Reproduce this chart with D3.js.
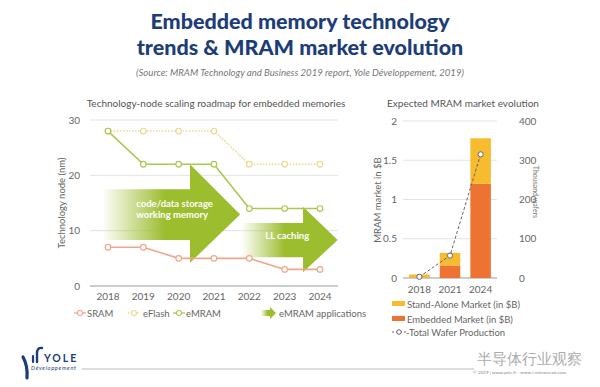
<!DOCTYPE html>
<html lang="en">
<head>
	<meta charset="UTF-8">
	<title>Embedded memory & MRAM</title>
	<script src="https://cdn.jsdelivr.net/npm/d3@7"></script>
	<style>
		body { margin: 0; background: #fff; }
		text { font-family: Lato, "Open Sans", sans-serif; }
	</style>
</head>
<body>
	<div id="vis"></div>

	<script>
		var width = 600;
		var height = 387;

		// ---- data: left chart (technology node, nm)
		var years = [2018, 2019, 2020, 2021, 2022, 2023, 2024];
		var sram = [7, 7, 5, 5, 5, 3, 3];
		var eflash = [28, 28, 28, 28, 22, 22, 22];
		var emram = [28, 22, 22, 22, 14, 14, 14];
		var nodeTicks = [0, 10, 20, 30];

		// ---- data: right chart (MRAM market)
		var marketYears = ["2018", "2021", "2024"];
		var embedded = [0.005, 0.16, 1.2];
		var standAlone = [0.04, 0.16, 0.58];
		var wafers = [3, 57, 315];
		var marketTicks = [0, 0.5, 1, 1.5, 2];
		var waferTicks = [0, 100, 200, 300, 400];

		var cSram = "#eda78b", cFlash = "#ecd98c", cMram = "#a9c84f", cArrow = "#9cbd2e";
		var cEmb = "#ec7331", cSA = "#f7bb2f", cNavy = "#1d3d78", cGrey = "#666";

		var svg = d3.select("#vis").append("svg")
				.attr("width", width)
				.attr("height", height);

		// title
		svg.append("text").attr("x", 300).attr("y", 29).attr("text-anchor", "middle")
			.attr("font-size", 21.5).attr("font-weight", 900).attr("fill", cNavy)
			.text("Embedded memory technology");
		svg.append("text").attr("x", 300).attr("y", 55).attr("text-anchor", "middle")
			.attr("font-size", 21.5).attr("font-weight", 900).attr("fill", cNavy)
			.text("trends & MRAM market evolution");
		svg.append("text").attr("x", 300).attr("y", 76).attr("text-anchor", "middle")
			.attr("font-size", 9.6).attr("font-style", "italic").attr("fill", "#777")
			.text("(Source: MRAM Technology and Business 2019 report, Yole Développement, 2019)");

		// ================= left chart
		var x = d3.scaleLinear().domain([2018, 2024]).range([108, 320]);
		var y = d3.scaleLinear().domain([0, 30]).range([286, 120]);
		var left = svg.append("g");

		left.append("text").attr("x", 216).attr("y", 107).attr("text-anchor", "middle")
			.attr("font-size", 10).attr("fill", "#555")
			.text("Technology-node scaling roadmap for embedded memories");

		left.selectAll(".grid").data(nodeTicks).enter().append("line")
			.attr("x1", 90).attr("x2", 338)
			.attr("y1", function(d) { return y(d); }).attr("y2", function(d) { return y(d); })
			.attr("stroke", function(d) { return d === 0 ? "#999" : "#e3e3e3"; })
			.attr("stroke-width", 1);
		left.selectAll(".ytick").data(nodeTicks).enter().append("text")
			.attr("x", 80).attr("y", function(d) { return y(d) + 3.5; })
			.attr("text-anchor", "end").attr("font-size", 10).attr("fill", cGrey)
			.text(function(d) { return d; });
		left.selectAll(".xtick").data(years).enter().append("text")
			.attr("x", function(d) { return x(d); }).attr("y", 300)
			.attr("text-anchor", "middle").attr("font-size", 10).attr("fill", cGrey)
			.text(function(d) { return d; });
		left.append("text")
			.attr("transform", "translate(65," + y(15) + ") rotate(-90)")
			.attr("text-anchor", "middle").attr("font-size", 9.5).attr("fill", cGrey)
			.text("Technology node (nm)");

		// arrow gradient
		var defs = svg.append("defs");
		var grad = defs.append("linearGradient").attr("id", "arrowGrad")
			.attr("x1", "0").attr("x2", "1").attr("y1", "0").attr("y2", "0");
		grad.append("stop").attr("offset", "0%").attr("stop-color", cArrow).attr("stop-opacity", 0.02);
		grad.append("stop").attr("offset", "45%").attr("stop-color", cArrow).attr("stop-opacity", 1);
		grad.append("stop").attr("offset", "100%").attr("stop-color", cArrow).attr("stop-opacity", 1);

		// arrows in data units: body start/end year, tip year, body low/high, head low/high
		var arrows = [
			{ x0: 2017.87, x1: 2020.32, x2: 2021.74, b0: 8.3, b1: 17.5, h0: 4.2, h1: 22.0, label: ["code/data storage", "working memory"], lx: 2018.8, ly: 14.2 },
			{ x0: 2021.8, x1: 2023.52, x2: 2024.5, b0: 5.2, b1: 11.4, h0: 2.5, h1: 14.3, label: ["LL caching"], lx: 2022.45, ly: 8.5 }
		];
		arrows.forEach(function(a) {
			var mid = (a.b0 + a.b1) / 2;
			var pts = [[a.x0, a.b1], [a.x1, a.b1], [a.x1, a.h1], [a.x2, mid], [a.x1, a.h0], [a.x1, a.b0], [a.x0, a.b0]];
			left.append("path")
				.attr("d", d3.line().x(function(p) { return x(p[0]); }).y(function(p) { return y(p[1]); })(pts) + "Z")
				.attr("fill", "url(#arrowGrad)");
		});

		function series(data, color, dash) {
			var pts = years.map(function(yr, i) { return [yr, data[i]]; });
			left.append("path")
				.attr("d", d3.line().x(function(p) { return x(p[0]); }).y(function(p) { return y(p[1]); })(pts))
				.attr("fill", "none").attr("stroke", color).attr("stroke-width", 1.6)
				.attr("stroke-dasharray", dash);
			left.selectAll(null).data(pts).enter().append("circle")
				.attr("cx", function(p) { return x(p[0]); }).attr("cy", function(p) { return y(p[1]); })
				.attr("r", 2.8).attr("fill", "#fff").attr("stroke", color).attr("stroke-width", 1.2);
		}
		series(eflash, cFlash, "1.5,1.5");
		series(emram, cMram, null);
		series(sram, cSram, null);

		arrows.forEach(function(a) {
			a.label.forEach(function(t, i) {
				left.append("text")
					.attr("x", x(a.lx)).attr("y", y(a.ly) + i * 11)
					.attr("font-size", 9.5).attr("font-weight", 700).attr("fill", "#fff")
					.text(t);
			});
		});

		// left legend
		var lg = left.append("g").attr("transform", "translate(0,313)");
		[[74, cSram, "SRAM", null], [128, cFlash, "eFlash", "1.5,1.5"], [173, cMram, "eMRAM", null]].forEach(function(l) {
			lg.append("line").attr("x1", l[0]).attr("x2", l[0] + 12).attr("y1", 0).attr("y2", 0)
				.attr("stroke", l[1]).attr("stroke-width", 1.3).attr("stroke-dasharray", l[3]);
			lg.append("circle").attr("cx", l[0] + 6).attr("cy", 0).attr("r", 2.5)
				.attr("fill", "#fff").attr("stroke", l[1]).attr("stroke-width", 1.1);
			lg.append("text").attr("x", l[0] + (l[2] === "eFlash" ? 15 : 13)).attr("y", 3.5)
				.attr("font-size", 9.5).attr("fill", cGrey).text(l[2]);
		});
		lg.append("path")
			.attr("d", "M261,-3 L270,-3 L270,-6 L276,0 L270,6 L270,3 L261,3 Z")
			.attr("fill", "url(#arrowGrad)");
		lg.append("text").attr("x", 279).attr("y", 3.5).attr("font-size", 9.5).attr("fill", cGrey)
			.text("eMRAM applications");

		// ================= right chart
		var xb = d3.scaleBand().domain(marketYears).range([403, 497]).paddingInner(0.33).paddingOuter(0.2);
		var yb = d3.scaleLinear().domain([0, 2]).range([278, 121]);
		var yw = d3.scaleLinear().domain([0, 400]).range([278, 121]);
		var right = svg.append("g");

		right.append("text").attr("x", 463).attr("y", 107).attr("text-anchor", "middle")
			.attr("font-size", 10).attr("fill", "#555")
			.text("Expected MRAM market evolution");

		right.selectAll(".grid").data(marketTicks).enter().append("line")
			.attr("x1", 403).attr("x2", 497)
			.attr("y1", function(d) { return yb(d); }).attr("y2", function(d) { return yb(d); })
			.attr("stroke", function(d) { return d === 0 ? "#999" : "#e3e3e3"; });
		right.selectAll(".ytl").data(marketTicks).enter().append("text")
			.attr("x", 397).attr("y", function(d) { return yb(d) + 3.5; })
			.attr("text-anchor", "end").attr("font-size", 10).attr("fill", cGrey)
			.text(function(d) { return d; });
		right.selectAll(".ytr").data(waferTicks).enter().append("text")
			.attr("x", 519).attr("y", function(d) { return yw(d) + 3.5; })
			.attr("font-size", 10).attr("fill", cGrey)
			.text(function(d) { return d; });
		right.selectAll(".xt").data(marketYears).enter().append("text")
			.attr("x", function(d) { return xb(d) + xb.bandwidth() / 2; }).attr("y", 293)
			.attr("text-anchor", "middle").attr("font-size", 10).attr("fill", cGrey)
			.text(function(d) { return d; });
		right.append("text")
			.attr("transform", "translate(381,200) rotate(-90)")
			.attr("text-anchor", "middle").attr("font-size", 9.5).attr("fill", cGrey)
			.text("MRAM market in $B");
		right.append("text")
			.attr("transform", "translate(533,192) rotate(90)")
			.attr("text-anchor", "middle").attr("font-size", 7).attr("fill", "#777")
			.text("Thousand wafers");

		var stacked = d3.stack().keys(["emb", "sa"])(marketYears.map(function(yr, i) {
			return { year: yr, emb: embedded[i], sa: standAlone[i] };
		}));
		var colors = { emb: cEmb, sa: cSA };
		stacked.forEach(function(layer) {
			right.selectAll(null).data(layer).enter().append("rect")
				.attr("x", function(d) { return xb(d.data.year); })
				.attr("width", xb.bandwidth())
				.attr("y", function(d) { return yb(d[1]); })
				.attr("height", function(d) { return yb(d[0]) - yb(d[1]); })
				.attr("fill", colors[layer.key]);
		});

		var wpts = marketYears.map(function(yr, i) { return [xb(yr) + xb.bandwidth() / 2, yw(wafers[i])]; });
		right.append("path").attr("d", d3.line()(wpts))
			.attr("fill", "none").attr("stroke", "#666").attr("stroke-width", 1)
			.attr("stroke-dasharray", "3,2");
		right.selectAll(null).data(wpts).enter().append("circle")
			.attr("cx", function(p) { return p[0]; }).attr("cy", function(p) { return p[1]; })
			.attr("r", 2.6).attr("fill", "#fff").attr("stroke", "#666").attr("stroke-width", 1);

		// right legend
		var rl = right.append("g");
		rl.append("rect").attr("x", 392).attr("y", 301).attr("width", 13).attr("height", 5).attr("fill", cSA);
		rl.append("text").attr("x", 407).attr("y", 307.5).attr("font-size", 9.5).attr("fill", cGrey)
			.text("Stand-Alone Market (in $B)");
		rl.append("rect").attr("x", 392).attr("y", 316).attr("width", 13).attr("height", 5).attr("fill", cEmb);
		rl.append("text").attr("x", 407).attr("y", 322.5).attr("font-size", 9.5).attr("fill", cGrey)
			.text("Embedded Market (in $B)");
		rl.append("line").attr("x1", 392).attr("x2", 406).attr("y1", 332).attr("y2", 332)
			.attr("stroke", "#666").attr("stroke-dasharray", "2,2");
		rl.append("circle").attr("cx", 399).attr("cy", 332).attr("r", 2.3)
			.attr("fill", "#fff").attr("stroke", "#666");
		rl.append("text").attr("x", 406).attr("y", 335.5).attr("font-size", 9.5).attr("fill", cGrey)
			.text("-Total Wafer Production");

		// ================= footer
		var ft = svg.append("g");
		ft.append("line").attr("x1", 82).attr("x2", 474).attr("y1", 369).attr("y2", 369)
			.attr("stroke", "#aaa").attr("stroke-width", 0.8);
		// yole swoosh
		ft.append("path").attr("d", "M23,357 Q28,366 27,378")
			.attr("fill", "none").attr("stroke", cNavy).attr("stroke-width", 3.2).attr("stroke-linecap", "round");
		ft.append("path").attr("d", "M33,356 L33,362")
			.attr("fill", "none").attr("stroke", cNavy).attr("stroke-width", 2.2).attr("stroke-linecap", "round");
		ft.append("path").attr("d", "M37,362 L37,352 Q38,347 42,348")
			.attr("fill", "none").attr("stroke", cNavy).attr("stroke-width", 2.4).attr("stroke-linecap", "round");
		ft.append("text").attr("x", 44).attr("y", 362).attr("font-size", 10.5).attr("font-weight", 700)
			.attr("letter-spacing", 2).attr("fill", cNavy).text("YOLE");
		ft.append("text").attr("x", 31).attr("y", 370).attr("font-size", 5.6).attr("font-style", "italic")
			.attr("letter-spacing", 0.7).attr("fill", cNavy).text("Développement");
		ft.append("text").attr("x", 477).attr("y", 364).attr("font-size", 15)
			.attr("font-family", "'Noto Sans CJK SC'").attr("fill", "#999").attr("opacity", 0.8)
			.text("半导体行业观察");
		ft.append("text").attr("x", 473).attr("y", 374).attr("font-size", 4.6).attr("fill", "#888")
			.text("© 2019 | www.yole.fr - www.i-micronews.com");
	</script>
</body>
</html>
